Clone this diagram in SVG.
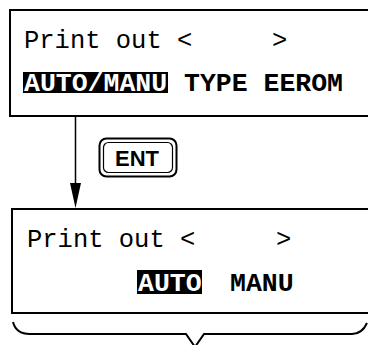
<svg xmlns="http://www.w3.org/2000/svg" width="368" height="345" viewBox="0 0 368 345">
<defs>
<style>
.frame{fill:none;stroke:#000;stroke-width:2}
.mono{font-family:"Liberation Mono","Courier New",monospace;font-size:25.5px;fill:#000}
.bold{font-family:"Liberation Mono","Courier New",monospace;font-size:26.5px;font-weight:bold;fill:#000}
.inv{fill:#fff}
.conn{fill:none;stroke:#000;stroke-width:1.5}
</style>
</defs>
<rect width="368" height="345" fill="#fff"/>
<g id="screen1">
<path class="frame" d="M380,10 H10 V116 H380"/>
<text class="mono" x="24" y="48">Print out &lt;</text>
<text class="mono" x="272" y="48">&gt;</text>
<rect x="23" y="72" width="145" height="21" fill="#000"/>
<text class="bold inv" x="24" y="91">AUTO/MANU</text>
<text class="bold" x="184" y="91">TYPE EEROM</text>
</g>
<g id="ent-key">
<rect x="99.5" y="138.5" width="77" height="38" rx="7" fill="#fff" stroke="#000" stroke-width="2"/>
<rect x="103.5" y="142.5" width="69" height="30" rx="5" fill="none" stroke="#000" stroke-width="1.2"/>
<text x="137" y="165.5" text-anchor="middle" font-family="Liberation Sans, Arial, sans-serif" font-weight="bold" font-size="22" fill="#000">ENT</text>
</g>
<g id="connectors">
<path class="conn" d="M75.5,117 V183"/>
<path d="M70,183 L81,183 L75.5,208 Z" fill="#000"/>
</g>
<g id="screen2">
<path class="frame" d="M380,209 H12 V313 H380"/>
<text class="mono" x="27" y="247">Print out &lt;</text>
<text class="mono" x="276" y="247">&gt;</text>
<rect x="137" y="270" width="65" height="24" fill="#000"/>
<text class="bold inv" x="138" y="291">AUTO</text>
<text class="bold" x="230" y="291">MANU</text>
</g>
<g id="brace">
<path class="frame" d="M13,322 Q16,334 30,334 H186 L195,347 L204,334 H352 Q362,334 367,323"/>
</g>
</svg>
